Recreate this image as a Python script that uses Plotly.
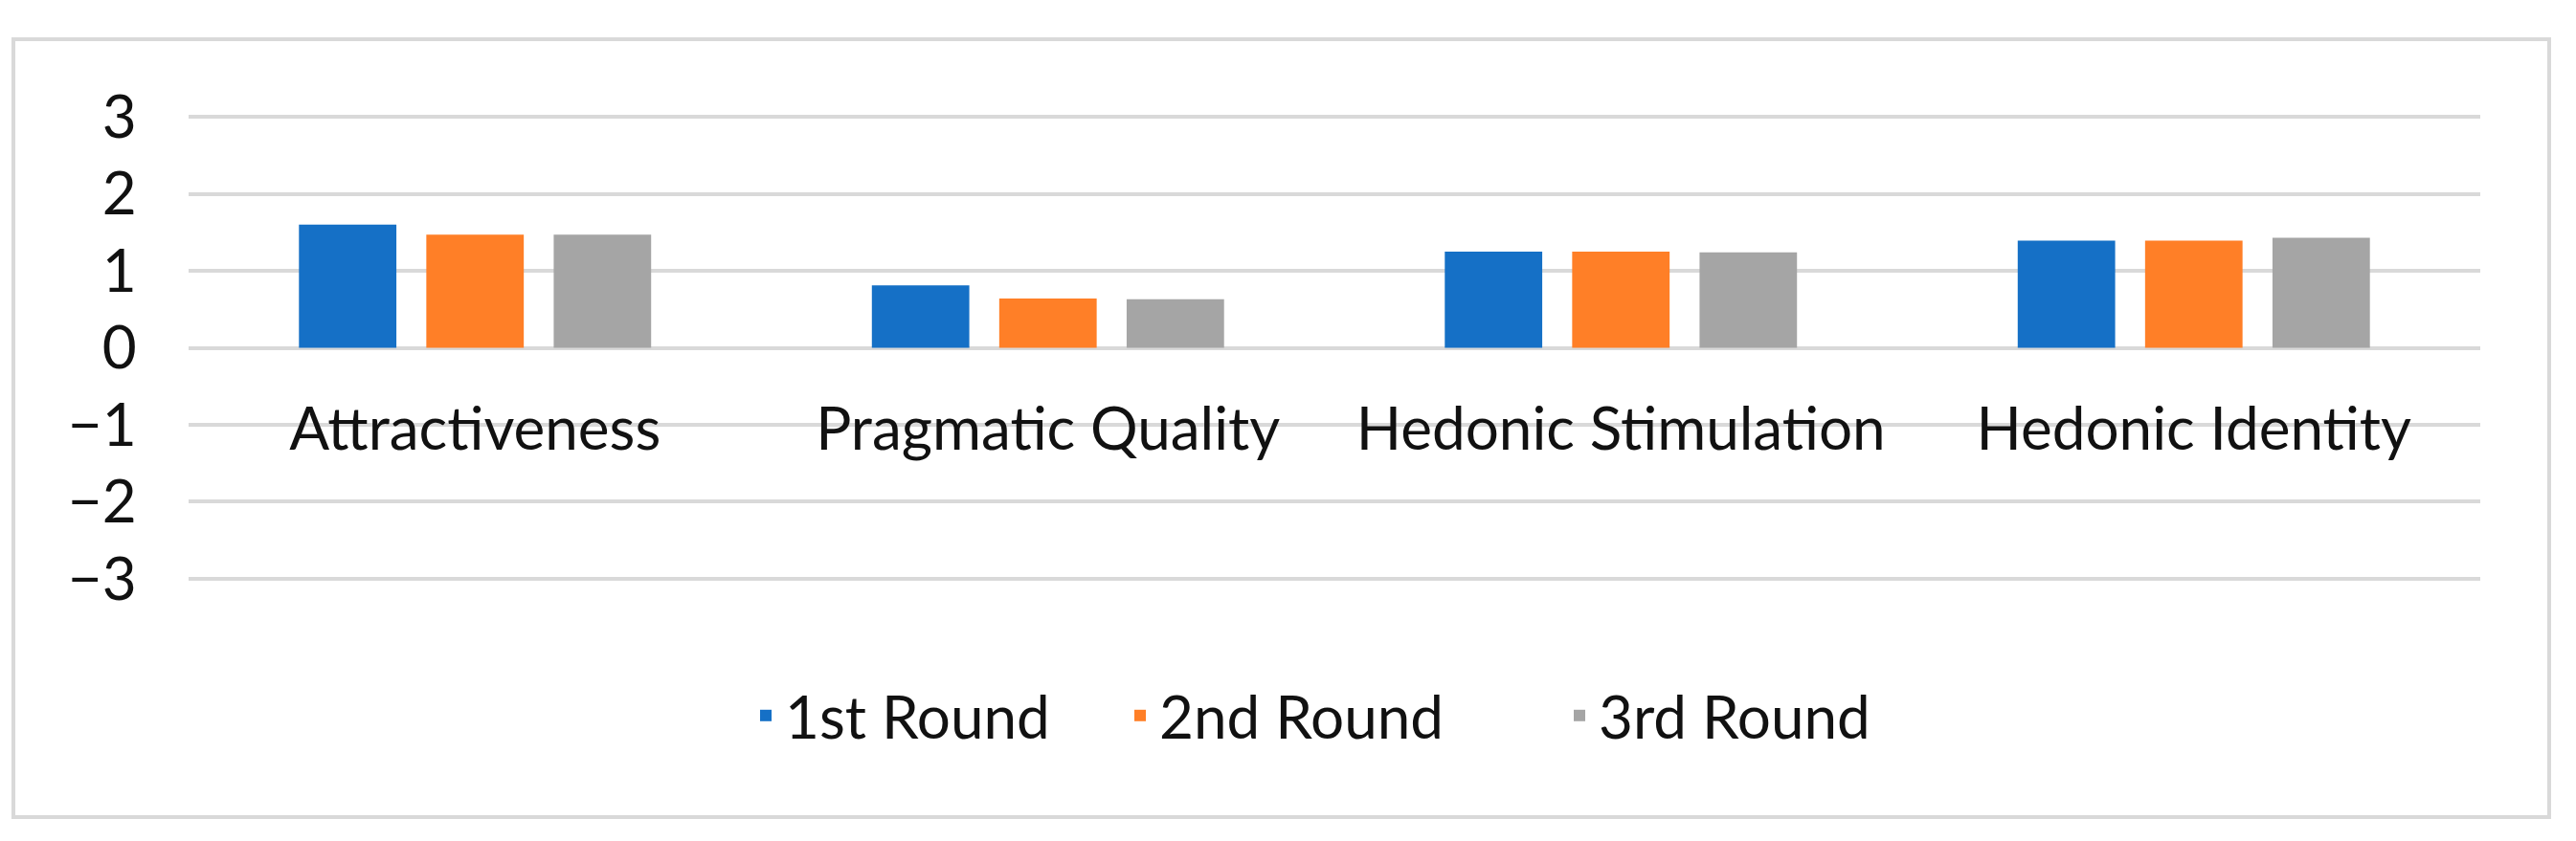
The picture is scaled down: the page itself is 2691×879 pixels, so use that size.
import plotly.graph_objects as go

categories = ["Attractiveness", "Pragmatic Quality", "Hedonic Stimulation", "Hedonic Identity"]
series_names = ["1st Round", "2nd Round", "3rd Round"]
round1 = [1.60, 0.81, 1.25, 1.39]
round2 = [1.47, 0.64, 1.25, 1.39]
round3 = [1.47, 0.63, 1.24, 1.43]
y_ticks = [-3, -2, -1, 0, 1, 2, 3]

colors = ["#1570C6", "#FF7F27", "#A5A5A5"]
FONT = "Lato, 'Open Sans', Arial, sans-serif"
FS = 62
GRID = "#D9D9D9"
TXT = "#111111"

W, H = 2691, 879
L, R, T, B = 197, 100, 118, 270
pw = W - L - R
ph = H - T - B

legend_ids = ["legend", "legend2", "legend3"]
legend_text_x = [820, 1211, 1670]

fig = go.Figure()
for name, vals, col, lid in zip(series_names, [round1, round2, round3], colors, legend_ids):
    fig.add_trace(go.Bar(x=categories, y=vals, name=name, legend=lid,
                         marker=dict(color=col, line=dict(width=0))))

legend_layout = {}
for lid, tx in zip(legend_ids, legend_text_x):
    legend_layout[lid] = dict(orientation="h", x=(tx - 40 - L) / pw, xanchor="left",
                              y=(T + ph - 748) / ph, yanchor="middle",
                              font=dict(family=FONT, size=FS, color=TXT), bgcolor="rgba(0,0,0,0)")

fig.update_layout(
    width=W, height=H, autosize=False,
    margin=dict(l=L, r=R, t=T, b=B),
    paper_bgcolor="white", plot_bgcolor="white",
    barmode="group", bargap=0.333, bargroupgap=0.235,
    font=dict(family=FONT, size=FS, color=TXT),
    showlegend=True,
    xaxis=dict(anchor="free", position=0.5, showgrid=False, showline=False, zeroline=False,
               ticks="outside", ticklen=31, tickcolor="rgba(0,0,0,0)",
               tickfont=dict(family=FONT, size=FS, color=TXT)),
    yaxis=dict(range=[-3.05, 3.05], tickvals=y_ticks, showgrid=True, gridcolor=GRID, gridwidth=4,
               zeroline=True, zerolinecolor=GRID, zerolinewidth=4, showline=False,
               ticks="outside", ticklen=41, tickcolor="rgba(0,0,0,0)",
               tickfont=dict(family=FONT, size=FS, color=TXT)),
    **legend_layout,
)

fig.add_shape(type="rect", xref="paper", yref="paper",
              x0=(14 - L) / pw, x1=(2663 - L) / pw, y0=(T + ph - 854) / ph, y1=(T + ph - 41) / ph,
              line=dict(color=GRID, width=4), fillcolor="rgba(0,0,0,0)", layer="below")

fig.write_html("out.html", config={"displayModeBar": False},
               post_script="document.body.style.margin='0';document.body.style.overflow='hidden';")
